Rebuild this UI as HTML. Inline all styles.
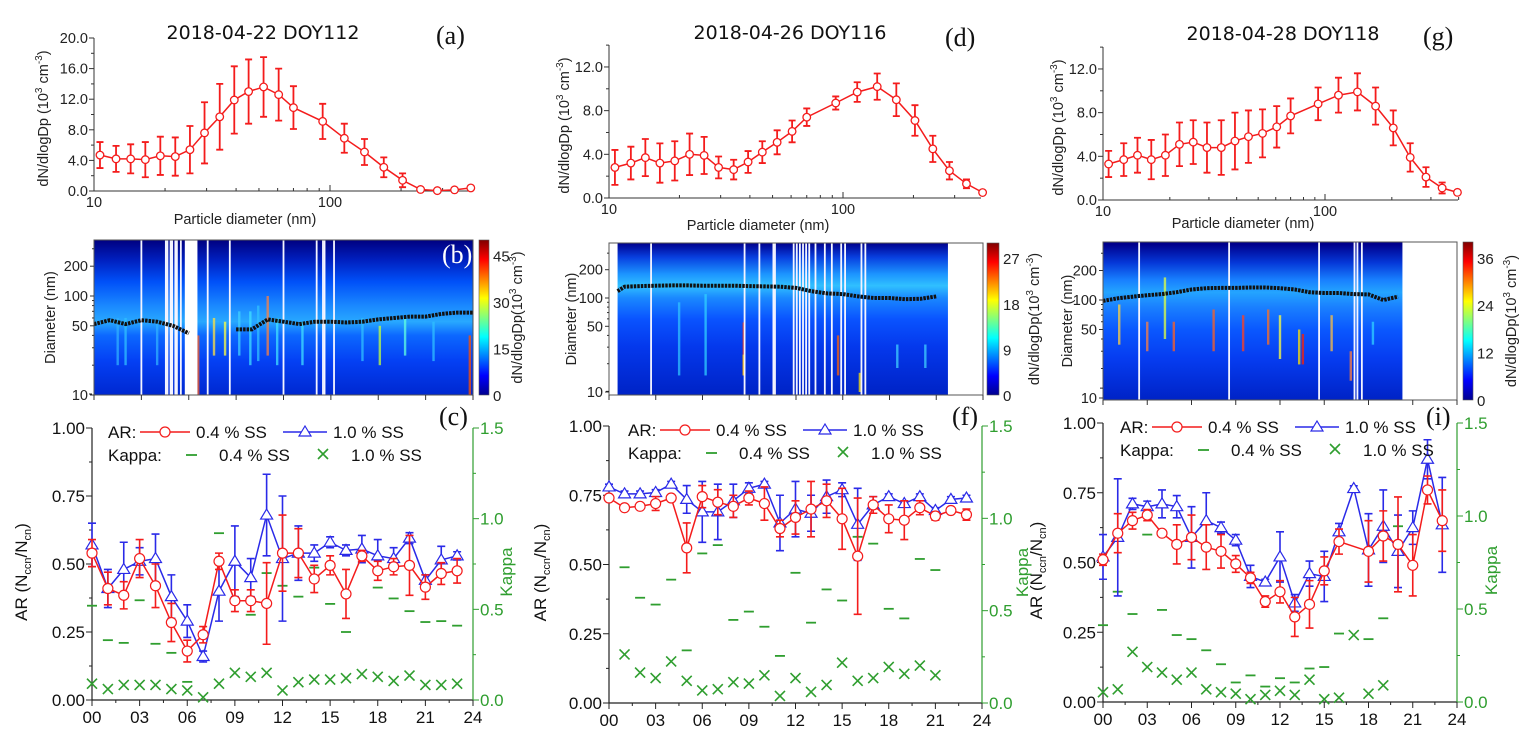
<!DOCTYPE html>
<html><head><meta charset="utf-8">
<style>
html,body{margin:0;padding:0;background:#fff;}
svg{display:block;font-family:"Liberation Sans",Arial,sans-serif;}
.serif{font-family:"Liberation Serif",serif;}
</style></head>
<body>
<svg id="fig" width="1533" height="744" viewBox="0 0 1533 744" xmlns="http://www.w3.org/2000/svg">
<defs>
<linearGradient id="jet" x1="0" y1="1" x2="0" y2="0">
<stop offset="0" stop-color="#00008f"/><stop offset="0.125" stop-color="#0000ff"/><stop offset="0.375" stop-color="#00ffff"/><stop offset="0.625" stop-color="#ffff00"/><stop offset="0.875" stop-color="#ff0000"/><stop offset="1" stop-color="#800000"/>
</linearGradient>
</defs>
</svg>
<script>
// ---------- size distribution data ----------
const diam = [10.6,12.4,14.3,16.5,19.1,22.1,25.5,29.4,34.1,39.3,45.2,52.3,60.6,70.0,93.1,115,140,169,203,242,285,337,395];
const sizeA = [4.7,4.2,4.2,4.1,4.6,4.5,5.4,7.6,9.7,11.9,13.0,13.6,12.6,10.9,9.1,6.9,5.1,3.1,1.4,0.2,0.05,0.15,0.4];
const errA  = [1.7,1.7,1.9,2.3,2.5,2.5,3.1,4.0,4.3,4.4,4.2,3.9,3.4,2.8,2.3,1.9,1.7,1.3,0.9,0.15,0.1,0.1,0.1];
const sizeD = [2.8,3.2,3.7,3.2,3.4,4.0,3.9,2.8,2.6,3.3,4.2,5.1,6.1,7.4,8.7,9.7,10.2,9.0,7.1,4.5,2.5,1.3,0.5];
const errD  = [1.6,1.5,1.7,1.8,1.8,1.9,1.7,1.0,0.9,1.0,1.0,1.1,1.0,0.8,0.6,0.9,1.2,1.5,1.4,1.2,0.8,0.4,0.1];
const sizeG = [3.3,3.7,4.1,3.7,4.1,5.1,5.3,4.8,4.8,5.4,5.8,6.1,6.7,7.7,8.8,9.6,9.9,8.6,6.6,3.9,2.1,1.1,0.7];
const errG  = [1.2,1.5,1.6,1.8,1.9,2.0,2.0,2.3,2.5,2.6,2.4,2.2,1.9,1.6,1.5,1.6,1.7,1.7,1.6,1.3,0.9,0.5,0.1];
// ---------- heatmap mode diameter (hourly) ----------
const hours = [0,1,2,3,4,5,6,7,8,9,10,11,12,13,14,15,16,17,18,19,20,21,22,23,24];
const modeB = [52,57,52,57,55,50,42,null,null,46,46,58,55,52,55,55,54,55,58,60,62,62,66,68,68];
const modeE = [118,132,134,135,136,136,135,135,135,134,133,132,128,118,112,110,104,100,100,97,98,104,null,null,null];
const modeH = [98,104,108,112,115,120,128,132,133,133,134,134,132,128,120,118,118,115,114,100,108,null,null,null,null];
const gapsB = [3.0,4.55,4.65,4.85,4.95,5.15,5.25,5.5,7.2,8.6,12.0,14.1,14.5,14.6,15.2];
const gapsE = [2.7,8.7,9.65,10.55,10.65,11.85,12.05,12.25,12.45,12.65,12.85,13.25,13.85,14.3,14.9,15.15,16.2,16.45];
const gapsH = [2.45,8.55,14.65,17.05,17.25,17.55];
// streaks: hour, dmin, dmax, colour
const streakB = [[1.5,20,60,'#30b0ff'],[2.0,20,60,'#30c0ff'],[4.0,20,55,'#30b0ff'],[6.6,10,40,'#ff6020'],[7.6,25,60,'#ffe040'],[8.3,25,55,'#ffff40'],[9.2,25,70,'#40d0ff'],[9.9,20,70,'#40e0ff'],[10.4,22,80,'#30c0ff'],[11.0,25,100,'#ff8040'],[11.6,20,60,'#40e0ff'],[13.2,20,55,'#40e0ff'],[17.0,22,60,'#30c0ff'],[18.1,20,50,'#c0ff40'],[19.7,25,60,'#60ffe0'],[21.5,22,55,'#30c0ff'],[23.8,10,40,'#ff5000']];
const streakE = [[4.5,15,90,'#30c0ff'],[6.2,15,110,'#30d0ff'],[8.65,15,55,'#ff3000'],[8.65,15,25,'#ffe000'],[14.7,15,40,'#ff6000'],[16.1,10,16,'#ffe000'],[18.5,18,32,'#40d0ff'],[20.3,18,32,'#40d0ff']];
const streakH = [[1.1,35,90,'#ffd040'],[3.0,30,60,'#ff8040'],[4.2,40,170,'#e0ff40'],[4.8,30,60,'#ff6020'],[7.5,30,80,'#ff6020'],[9.5,30,70,'#ff4020'],[11.2,35,80,'#ff7020'],[12.0,25,70,'#ffff40'],[13.3,22,50,'#ffe000'],[13.55,22,45,'#ff2000'],[15.5,30,70,'#ffc040'],[16.8,15,30,'#ff8040'],[18.3,35,60,'#30d0ff']];
// ---------- AR / kappa data ----------
const arRedC  = [0.54,0.41,0.385,0.52,0.42,0.285,0.18,0.24,0.51,0.365,0.365,0.355,0.54,0.54,0.445,0.495,0.39,0.53,0.475,0.49,0.495,0.415,0.465,0.475];
const arRedCe = [0.05,0.06,0.05,0.07,0.08,0.07,0.04,0.03,0.03,0.04,0.04,0.15,0.14,0.09,0.05,0.035,0.09,0.02,0.035,0.03,0.11,0.045,0.04,0.045];
const arBlueC = [0.57,0.41,0.48,0.51,0.52,0.38,0.29,0.16,0.40,0.51,0.45,0.68,0.52,0.54,0.54,0.58,0.55,0.555,0.53,0.52,0.595,0.44,0.515,0.53];
const arBlueCe= [0.08,0.07,0.1,0.05,0.09,0.08,0.06,0.02,0.11,0.13,0.07,0.15,0.23,0.1,0.03,0.02,0.02,0.05,0.06,0.04,0.02,0.02,0.05,0.015];
const kap04C  = [0.52,0.33,0.315,0.55,0.31,0.26,0.1,0.22,0.92,0.56,0.47,0.70,0.63,0.57,0.73,0.53,0.375,0.80,0.62,0.56,0.49,0.43,0.435,0.41];
const kap10C  = [0.09,0.06,0.083,0.083,0.083,0.06,0.053,0.015,0.09,0.15,0.128,0.15,0.053,0.098,0.113,0.113,0.12,0.143,0.128,0.105,0.135,0.083,0.083,0.09];
const arRedF  = [0.74,0.705,0.71,0.72,0.74,0.56,0.745,0.725,0.71,0.74,0.72,0.63,0.67,0.70,0.73,0.665,0.53,0.715,0.665,0.66,0.705,0.675,0.695,0.68];
const arRedFe = [0.01,0.01,0.01,0.025,0.01,0.09,0.04,0.045,0.04,0.025,0.06,0.03,0.06,0.1,0.06,0.11,0.21,0.03,0.05,0.07,0.025,0.015,0.01,0.02];
const arBlueF = [0.78,0.755,0.755,0.76,0.79,0.735,0.69,0.69,0.73,0.775,0.79,0.65,0.70,0.685,0.745,0.77,0.645,0.715,0.745,0.72,0.745,0.695,0.735,0.74];
const arBlueFe= [0.01,0.01,0.01,0.01,0.01,0.05,0.11,0.1,0.06,0.02,0.01,0.1,0.1,0.065,0.06,0.025,0.13,0.03,0.01,0.01,0.01,0.01,0.01,0.01];
const kap04F  = [null,0.735,0.57,0.533,0.668,0.285,0.81,0.855,0.45,0.495,0.413,0.255,0.705,0.435,0.615,0.555,0.90,0.863,0.51,0.458,0.78,0.72,null,null];
const kap10F  = [null,0.263,0.165,0.135,0.225,0.12,0.068,0.075,0.113,0.105,0.15,0.038,0.135,0.06,0.098,0.218,0.12,0.135,0.195,0.158,0.203,0.15,null,null];
const arRedI  = [0.51,0.605,0.65,0.67,0.605,0.565,0.59,0.555,0.54,0.495,0.445,0.36,0.395,0.305,0.35,0.47,0.575,null,0.54,0.595,0.565,0.49,0.76,0.65];
const arRedIe = [0.02,0.07,0.03,0.02,0.01,0.07,0.08,0.08,0.06,0.03,0.02,0.02,0.04,0.07,0.085,0.05,0.045,0,0.11,0.09,0.17,0.11,0.05,0.11];
const arBlueI = [0.52,0.59,0.71,0.70,0.71,0.70,0.59,0.65,0.625,0.58,0.45,0.43,0.52,0.355,0.46,0.45,0.61,0.765,0.545,0.63,0.54,0.625,0.87,0.635];
const arBlueIe= [0.08,0.21,0.02,0.02,0.05,0.04,0.11,0.1,0.02,0.02,0.04,0.01,0.09,0.03,0.045,0.09,0.03,0.01,0.13,0.13,0.13,0.06,0.07,0.17];
const kap04I  = [0.413,0.593,0.473,0.90,0.495,0.36,0.338,0.278,0.203,0.105,0.143,0.083,0.128,0.105,0.18,0.188,0.368,null,0.338,0.45,0.945,null,null,null];
const kap10I  = [0.053,0.068,0.27,0.188,0.158,0.12,0.158,0.068,0.053,0.045,0.015,0.038,0.06,0.038,0.12,0.015,0.023,0.36,0.045,0.09,null,null,null,null];
const xTickLabels = ['00','03','06','09','12','15','18','21','24'];
const arTicks = ['0.00','0.25','0.50','0.75','1.00'];
const kapTicks = ['0.0','0.5','1.0','1.5'];

const NS='http://www.w3.org/2000/svg';
const svg=document.getElementById('fig');
function mk(tag,attrs,parent,text){const e=document.createElementNS(NS,tag);for(const k in attrs)e.setAttribute(k,attrs[k]);if(text!==undefined)e.textContent=text;(parent||svg).appendChild(e);return e;}
function grp(name){const g=mk('g',{});return g;}
const RED='#f41c1c',BLUE='#2a2ae8',GREEN='#2f9e2f';

function sizePanel(o){
  const g=grp(o.name);
  const xs=d=>o.x10+(Math.log10(d)-1)*o.dec;
  const ys=v=>o.y0-v*o.ppu;
  mk('line',{x1:o.x10,y1:o.yTop,x2:o.x10,y2:o.y0,stroke:'#333','stroke-width':1},g);
  mk('line',{x1:o.x10,y1:o.y0,x2:o.xEnd,y2:o.y0,stroke:'#333','stroke-width':1},g);
  for(let v=0;v<=o.vmax+0.01;v+=o.step/2){
    const y=ys(v);const major=Math.abs((v/o.step)-Math.round(v/o.step))<0.01;
    mk('line',{x1:o.x10-(major?5:3),y1:y,x2:o.x10,y2:y,stroke:'#333'},g);
    if(major){const t=mk('text',{x:o.x10-6,y:y+5,'text-anchor':'end','font-size':14.5,fill:'#222'},g,v.toFixed(1));}
  }
  [10,20,30,40,50,60,70,80,90,100,200,300,400].forEach(d=>{const x=xs(d);if(x>o.xEnd+1)return;const maj=(d===10||d===100);
    mk('line',{x1:x,y1:o.y0,x2:x,y2:o.y0-(maj?6:3),stroke:'#333'},g);
    if(maj){const t=mk('text',{x:x,y:o.y0+16,'text-anchor':'middle','font-size':14.5,fill:'#222'},g,String(d));}});
  const xt=mk('text',{x:o.xtX,y:o.xtY,'text-anchor':'middle','font-size':14.5,fill:'#222'},g,'Particle diameter (nm)');
  
  const yt=mk('text',{transform:`translate(${o.ytX},${(o.yTop+o.y0)/2+4}) rotate(-90)`,'text-anchor':'middle','font-size':14.5,fill:'#222'},g);
  
  yt.innerHTML='dN/dlogDp (10<tspan dy="-6" font-size="10">3</tspan><tspan dy="6"> cm</tspan><tspan dy="-6" font-size="10">-3</tspan><tspan dy="6">)</tspan>';
  const ti=mk('text',{x:o.tX,y:o.tY,'text-anchor':'middle','font-size':19,fill:'#111','font-family':'DejaVu Sans, sans-serif'},g,o.title);
  
  const pl=mk('text',{x:o.lX,y:o.lY,'font-size':26,fill:'#111',class:'serif'},g,o.letter);
  
  let pts=o.vals.map((v,i)=>xs(diam[i]).toFixed(1)+','+ys(v).toFixed(1));
  const line=mk('polyline',{points:pts.join(' '),fill:'none',stroke:RED,'stroke-width':1.5},g);
  
  o.vals.forEach((v,i)=>{const x=xs(diam[i]);const e=o.errs[i];
    const eb=mk('path',{d:`M${x},${ys(v+e)}V${ys(Math.max(0,v-e))}M${x-3.5},${ys(v+e)}h7M${x-3.5},${ys(Math.max(0,v-e))}h7`,stroke:RED,'stroke-width':1.8,fill:'none'},g);
    
    const c=mk('circle',{cx:x,cy:ys(v),r:3.8,fill:'#fff',stroke:RED,'stroke-width':1.3},g);
    });
}

function heatPanel(o){
  const g=grp(o.name);
  const ys=d=>o.y10-(Math.log10(d)-1)*o.dec;
  const xs=h=>o.xl+(h/24)*(o.xr-o.xl);
  const gid='hg'+o.letter.replace(/\W/g,'');
  const lg=mk('linearGradient',{id:gid,gradientUnits:'userSpaceOnUse',x1:0,y1:o.yt,x2:0,y2:o.yb},svg.querySelector('defs'));
  o.stops.forEach(s=>mk('stop',{offset:Math.min(1,Math.max(0,(ys(s[0])-o.yt)/(o.yb-o.yt))),'stop-color':s[1]},lg));
  const hm=mk('rect',{x:xs(o.h0),y:o.yt,width:xs(o.h1)-xs(o.h0),height:o.yb-o.yt,fill:`url(#${gid})`},g);
  
  o.streaks.forEach(s=>{const st=mk('rect',{x:xs(s[0])-1.2,y:ys(s[2]),width:2.4,height:ys(s[1])-ys(s[2]),fill:s[3],opacity:0.75},g);
    });
  o.gaps.forEach(h=>{const r=mk('rect',{x:xs(h)-0.9,y:o.yt,width:1.8,height:o.yb-o.yt,fill:'#f4f4ff'},g);
    });
  if(o.bigGap){const r=mk('rect',{x:xs(o.bigGap[0]),y:o.yt,width:xs(o.bigGap[1])-xs(o.bigGap[0]),height:o.yb-o.yt,fill:'#fff'},g);
    }
  let segs=[],cur=[];
  o.mode.forEach((d,i)=>{if(d===null||hours[i]>o.h1){if(cur.length)segs.push(cur);cur=[];}else cur.push(xs(Math.max(o.h0,hours[i])).toFixed(1)+','+ys(d).toFixed(1));});
  if(cur.length)segs.push(cur);
  segs.forEach(s=>{const p=mk('polyline',{points:s.join(' '),fill:'none',stroke:'#111','stroke-width':4,'stroke-dasharray':'2.5 1'},g);
    });
  mk('rect',{x:o.xl,y:o.yt,width:o.xr-o.xl,height:o.yb-o.yt,fill:'none',stroke:'#555','stroke-width':1},g);
  [10,50,100,200].forEach(d=>{const y=ys(d);mk('line',{x1:o.xl-4,y1:y,x2:o.xl,y2:y,stroke:'#333'},g);
    const t=mk('text',{x:o.xl-6,y:y+5,'text-anchor':'end','font-size':14.5,fill:'#222'},g,String(d));});
  [20,30,40,60,70,80,90,300].forEach(d=>{const y=ys(d);if(y<o.yt)return;mk('line',{x1:o.xl-2,y1:y,x2:o.xl,y2:y,stroke:'#333'},g);});
  for(let h=0;h<=24;h+=3){const x=xs(h);mk('line',{x1:x,y1:o.yb,x2:x,y2:o.yb+5,stroke:'#333'},g);}
  const yt=mk('text',{transform:`translate(${o.ytX},${(o.yt+o.yb)/2}) rotate(-90)`,'text-anchor':'middle','font-size':14.5,fill:'#222'},g,'Diameter (nm)');
  
  const pl=mk('text',{x:o.lX,y:o.lY,'font-size':26,fill:'#fff',class:'serif'},g,o.letter);
  
  const cb=mk('rect',{x:o.cbX,y:o.yt,width:o.cbW,height:o.yb-o.yt,fill:'url(#jet)',stroke:'#555','stroke-width':0.6},g);
  
  o.cbTicks.forEach((v,i)=>{const y=o.yb-(v/o.cbMax)*(o.yb-o.yt);
    const t=mk('text',{x:o.cbX+o.cbW+4,y:y+6,'font-size':15,fill:'#222'},g,String(v));});
  const ct=mk('text',{transform:`translate(${o.cbtX},${(o.yt+o.yb)/2}) rotate(-90)`,'text-anchor':'middle','font-size':14.5,fill:'#222'},g);
  
  ct.innerHTML='dN/dlogDp(10<tspan dy="-6" font-size="10">3</tspan><tspan dy="6"> cm</tspan><tspan dy="-6" font-size="10">-3</tspan><tspan dy="6">)</tspan>';
}

function arPanel(o){
  const g=grp(o.name);
  const xs=h=>o.x0+(h/24)*(o.x24-o.x0);
  const ys=v=>o.y0-v*(o.y0-o.y1);
  const yk=k=>ys(k/1.5);
  mk('line',{x1:o.x0,y1:o.y1,x2:o.x0,y2:o.y0,stroke:'#222','stroke-width':1.2},g);
  mk('line',{x1:o.x0,y1:o.y0,x2:o.x24,y2:o.y0,stroke:'#222','stroke-width':1.2},g);
  mk('line',{x1:o.x24,y1:o.y1,x2:o.x24,y2:o.y0,stroke:GREEN,'stroke-width':1.2},g);
  arTicks.forEach((lab,i)=>{const y=ys(i*0.25);mk('line',{x1:o.x0-6,y1:y,x2:o.x0,y2:y,stroke:'#222'},g);
    mk('line',{x1:o.x0-3,y1:ys(i*0.25+0.125),x2:o.x0,y2:ys(i*0.25+0.125),stroke:'#222'},g);
    const t=mk('text',{x:o.x0-7,y:y+6,'text-anchor':'end','font-size':17,fill:'#111'},g,lab);});
  kapTicks.forEach((lab,i)=>{const y=yk(i*0.5);mk('line',{x1:o.x24,y1:y,x2:o.x24+6,y2:y,stroke:GREEN},g);
    if(i<3)mk('line',{x1:o.x24,y1:yk(i*0.5+0.25),x2:o.x24+3,y2:yk(i*0.5+0.25),stroke:GREEN},g);
    const t=mk('text',{x:o.x24+7,y:y+6,'font-size':17,fill:GREEN},g,lab);});
  xTickLabels.forEach((lab,i)=>{const x=xs(i*3);mk('line',{x1:x,y1:o.y0,x2:x,y2:o.y0+6,stroke:'#222'},g);
    if(i<8)mk('line',{x1:xs(i*3+1.5),y1:o.y0,x2:xs(i*3+1.5),y2:o.y0+3,stroke:'#222'},g);
    const t=mk('text',{x:x,y:o.y0+23,'text-anchor':'middle','font-size':17,fill:'#111'},g,lab);});
  const yt=mk('text',{transform:`translate(${o.ytX},${(o.y0+o.y1)/2+8}) rotate(-90)`,'text-anchor':'middle','font-size':17,fill:'#111'},g);
  
  yt.innerHTML='AR (N<tspan dy="4" font-size="11">ccn</tspan><tspan dy="-4">/N</tspan><tspan dy="4" font-size="11">cn</tspan><tspan dy="-4">)</tspan>';
  const kt=mk('text',{transform:`translate(${o.ktX},${(o.y0+o.y1)/2+8}) rotate(-90)`,'text-anchor':'middle','font-size':17,fill:GREEN},g,'Kappa');
  
  o.k04.forEach((k,i)=>{if(k===null)return;const d=mk('line',{x1:xs(i)-5,y1:yk(k),x2:xs(i)+5,y2:yk(k),stroke:GREEN,'stroke-width':1.8},g);});
  o.k10.forEach((k,i)=>{if(k===null)return;const x=xs(i),y=yk(k);const m=mk('path',{d:`M${x-5},${y-5}L${x+5},${y+5}M${x-5},${y+5}L${x+5},${y-5}`,stroke:GREEN,'stroke-width':1.6},g);});
  function series(vals,errs,col,marker,nm){
    const pts=[];vals.forEach((v,i)=>{if(v!==null)pts.push(xs(i).toFixed(1)+','+ys(v).toFixed(1));});
    const l=mk('polyline',{points:pts.join(' '),fill:'none',stroke:col,'stroke-width':1.5},g);
    vals.forEach((v,i)=>{if(v===null)return;const x=xs(i),e=errs[i];
      const eb=mk('path',{d:`M${x},${ys(v+e)}V${ys(v-e)}M${x-4},${ys(v+e)}h8M${x-4},${ys(v-e)}h8`,stroke:col,'stroke-width':1.6,fill:'none'},g);
      
      const y=ys(v);let m;
      if(marker==='c')m=mk('circle',{cx:x,cy:y,r:5,fill:'#fff',stroke:col,'stroke-width':1.2},g);
      else m=mk('path',{d:`M${x},${y-6}L${x+6},${y+4}L${x-6},${y+4}Z`,fill:'#fff',stroke:col,'stroke-width':1.2},g);
      });
  }
  series(o.blue,o.bluee,BLUE,'t','ar-1.0ss');
  series(o.red,o.rede,RED,'c','ar-0.4ss');
  const lx=o.legX,ly=o.y1+4;
  const lg=mk('g',{},g);
  mk('text',{x:lx,y:ly+6,'font-size':17,fill:'#111'},lg,'AR:');
  mk('line',{x1:lx+32,y1:ly,x2:lx+82,y2:ly,stroke:RED,'stroke-width':1.5},lg);
  mk('circle',{cx:lx+57,cy:ly,r:5,fill:'#fff',stroke:RED,'stroke-width':1.2},lg);
  mk('text',{x:lx+88,y:ly+6,'font-size':17,fill:'#111'},lg,'0.4 % SS');
  mk('line',{x1:lx+175,y1:ly,x2:lx+219,y2:ly,stroke:BLUE,'stroke-width':1.5},lg);
  mk('path',{d:`M${lx+197},${ly-6}L${lx+203},${ly+4}L${lx+191},${ly+4}Z`,fill:'#fff',stroke:BLUE,'stroke-width':1.2},lg);
  mk('text',{x:lx+225,y:ly+6,'font-size':17,fill:'#111'},lg,'1.0 % SS');
  mk('text',{x:lx,y:ly+29,'font-size':17,fill:'#111'},lg,'Kappa:');
  mk('line',{x1:lx+78,y1:ly+23,x2:lx+89,y2:ly+23,stroke:GREEN,'stroke-width':1.8},lg);
  mk('text',{x:lx+111,y:ly+29,'font-size':17,fill:'#111'},lg,'0.4 % SS');
  mk('path',{d:`M${lx+210},${ly+17}L${lx+220},${ly+27}M${lx+210},${ly+27}L${lx+220},${ly+17}`,stroke:GREEN,'stroke-width':1.6},lg);
  mk('text',{x:lx+243,y:ly+29,'font-size':17,fill:'#111'},lg,'1.0 % SS');
  const pl=mk('text',{x:o.lX,y:o.lY,'font-size':26,fill:'#111',class:'serif'},g,o.letter);
  
}

sizePanel({name:'panel-a',x10:94,dec:236,xEnd:473,y0:191,ppu:7.65,yTop:38,vmax:20,step:4,vals:sizeA,errs:errA,title:'2018-04-22 DOY112',tX:263,tY:39,letter:'(a)',lX:436,lY:44,xtX:245,xtY:224,ytX:48});
sizePanel({name:'panel-d',x10:609,dec:234,xEnd:981,y0:198,ppu:10.92,yTop:45,vmax:14,step:4,vals:sizeD,errs:errD,title:'2018-04-26 DOY116',tX:790,tY:39,letter:'(d)',lX:945,lY:46,xtX:758,xtY:230,ytX:569});
sizePanel({name:'panel-g',x10:1103,dec:222,xEnd:1458,y0:200,ppu:10.92,yTop:47,vmax:14,step:4,vals:sizeG,errs:errG,title:'2018-04-28 DOY118',tX:1283,tY:40,letter:'(g)',lX:1423,lY:45,xtX:1243,xtY:228,ytX:1063});

heatPanel({name:'panel-b',letter:'(b)',xl:94,xr:473,yt:240,yb:395,y10:395,dec:99,h0:0,h1:24,
  stops:[[368,'#000080'],[230,'#0020c0'],[140,'#0050f8'],[80,'#1a88ff'],[55,'#28a8ff'],[40,'#0c68ff'],[22,'#0440f4'],[10,'#0028d0']],
  streaks:streakB,gaps:gapsB,bigGap:[5.75,6.55],mode:modeB,ytX:55,lX:442,lY:263,cbX:479,cbW:10,cbMax:50,cbTicks:[0,15,30,45],cbtX:522});
heatPanel({name:'panel-e',letter:'(e)',xl:609,xr:983,yt:243,yb:395,y10:392,dec:94,h0:0.55,h1:21.75,
  stops:[[385,'#00008c'],[270,'#0840e0'],[180,'#1c94ff'],[135,'#30c0ff'],[100,'#1a88ff'],[60,'#0a54ff'],[30,'#0438ec'],[10,'#0024c8']],
  streaks:streakE,gaps:gapsE,mode:modeE,ytX:576,lX:952,lY:269,cbX:987,cbW:12,cbMax:30,cbTicks:[0,9,18,27],cbtX:1039});
heatPanel({name:'panel-h',letter:'(h)',xl:1103,xr:1457,yt:242,yb:400,y10:398,dec:98,h0:0,h1:20.3,
  stops:[[370,'#00008c'],[240,'#0538d8'],[160,'#1880ff'],[120,'#24a4ff'],[85,'#1a80ff'],[50,'#0a58ff'],[25,'#063cf0'],[10,'#0024c8']],
  streaks:streakH,gaps:gapsH,mode:modeH,ytX:1072,lX:1422,lY:271,cbX:1463,cbW:10,cbMax:40,cbTicks:[0,12,24,36],cbtX:1516});

arPanel({name:'panel-c',letter:'(c)',x0:92,x24:473,y0:700,y1:428,red:arRedC,rede:arRedCe,blue:arBlueC,bluee:arBlueCe,k04:kap04C,k10:kap10C,legX:108,ytX:27,ktX:512,lX:439,lY:425});
arPanel({name:'panel-f',letter:'(f)',x0:609,x24:982,y0:703,y1:426,red:arRedF,rede:arRedFe,blue:arBlueF,bluee:arBlueFe,k04:kap04F,k10:kap10F,legX:628,ytX:546,ktX:1028,lX:952,lY:425});
arPanel({name:'panel-i',letter:'(i)',x0:1103,x24:1457,y0:702,y1:423,red:arRedI,rede:arRedIe,blue:arBlueI,bluee:arBlueIe,k04:kap04I,k10:kap10I,legX:1120,ytX:1042,ktX:1497,lX:1426,lY:425});
</script>
</body></html>
